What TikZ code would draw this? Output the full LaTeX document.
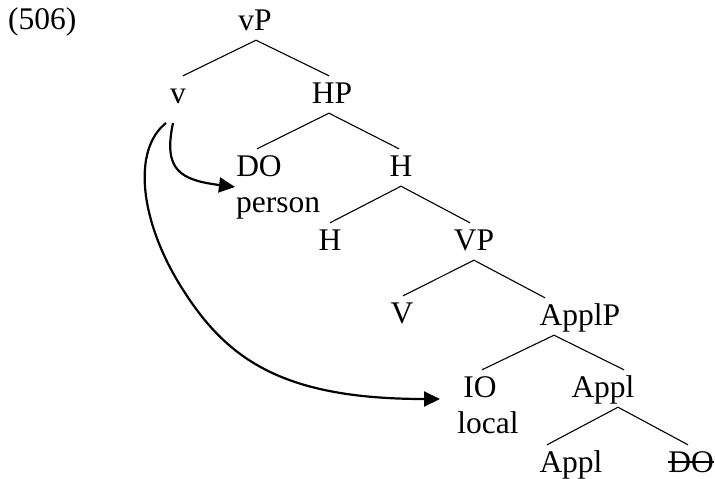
\documentclass[tikz,border=0pt]{standalone}
\usepackage{fontspec}
\setmainfont{Liberation Serif}
\usetikzlibrary{arrows.meta}
\begin{document}
\begin{tikzpicture}[x=1pt,y=-1pt,
  lbl/.style={inner xsep=0pt,inner ysep=6pt,text height=21pt,text depth=4pt,anchor=base,font=\fontsize{31.5}{34}\selectfont},
  plain/.style={inner sep=0pt,anchor=base,font=\fontsize{31.5}{34}\selectfont},
  branch/.style={line width=1.1pt},
  mover/.style={line width=2.2pt,-{Triangle[length=16pt,width=15pt]}}]
\useasboundingbox (0,0) rectangle (715,479);
\node[plain,anchor=base west] (num) at (8,29) {(506)};
\node[lbl] (vP) at (255,30) {vP};
\node[lbl] (v) at (178,103) {v};
\node[lbl] (HP) at (332,103) {HP};
\node[lbl] (DO) at (259,176) {DO};
\node[plain,anchor=base west] (person) at (236,212) {person};
\node[lbl] (H1) at (401,176) {H};
\node[lbl] (H2) at (330,250) {H};
\node[lbl] (VP) at (474,250) {VP};
\node[lbl] (V) at (402,323) {V};
\node[lbl] (ApplP) at (580,325) {ApplP};
\node[lbl] (IO) at (480,397) {IO};
\node[plain] (local) at (488,433) {local};
\node[lbl] (Appl1) at (603,397) {Appl};
\node[lbl] (Appl2) at (571,472) {Appl};
\node[lbl] (DOs) at (691,472) {DO};
\draw[line width=1.1pt] ([yshift=10pt]DOs.base west) -- ([yshift=10pt]DOs.base east);
% branches
\draw[branch] ([xshift=1pt]vP.south) -- ([xshift=5pt]v.north);
\draw[branch] ([xshift=1pt]vP.south) -- ([xshift=-3pt]HP.north);
\draw[branch] ([xshift=-3pt]HP.south) -- ([xshift=-2pt]DO.north);
\draw[branch] ([xshift=-3pt]HP.south) -- ([xshift=-2pt]H1.north);
\draw[branch] (H1.south) -- (H2.north);
\draw[branch] (H1.south) -- ([xshift=-4pt]VP.north);
\draw[branch] (VP.south) -- ([xshift=1pt]V.north);
\draw[branch] (VP.south) -- ([xshift=-35pt]ApplP.north);
\draw[branch] ([xshift=-26pt]ApplP.south) -- ([xshift=2pt]IO.north);
\draw[branch] ([xshift=-26pt]ApplP.south) -- ([xshift=21pt]Appl1.north);
\draw[branch] ([xshift=15pt]Appl1.south) -- ([xshift=-24pt]Appl2.north);
\draw[branch] ([xshift=15pt]Appl1.south) -- ([xshift=-3pt]DOs.north);
% movement arrows
\coordinate (s1) at (173,123);
\coordinate (s2) at (166,123);
\coordinate (t1) at (235,187);
\coordinate (t2) at (440,399);
\draw[mover] (s1) .. controls (163,170) and (180,180) .. (t1);
\draw[mover] (s2) .. controls (132,150) and (140,220) .. (180,285)
  .. controls (225,358) and (280,399) .. (t2);
\end{tikzpicture}
\end{document}
